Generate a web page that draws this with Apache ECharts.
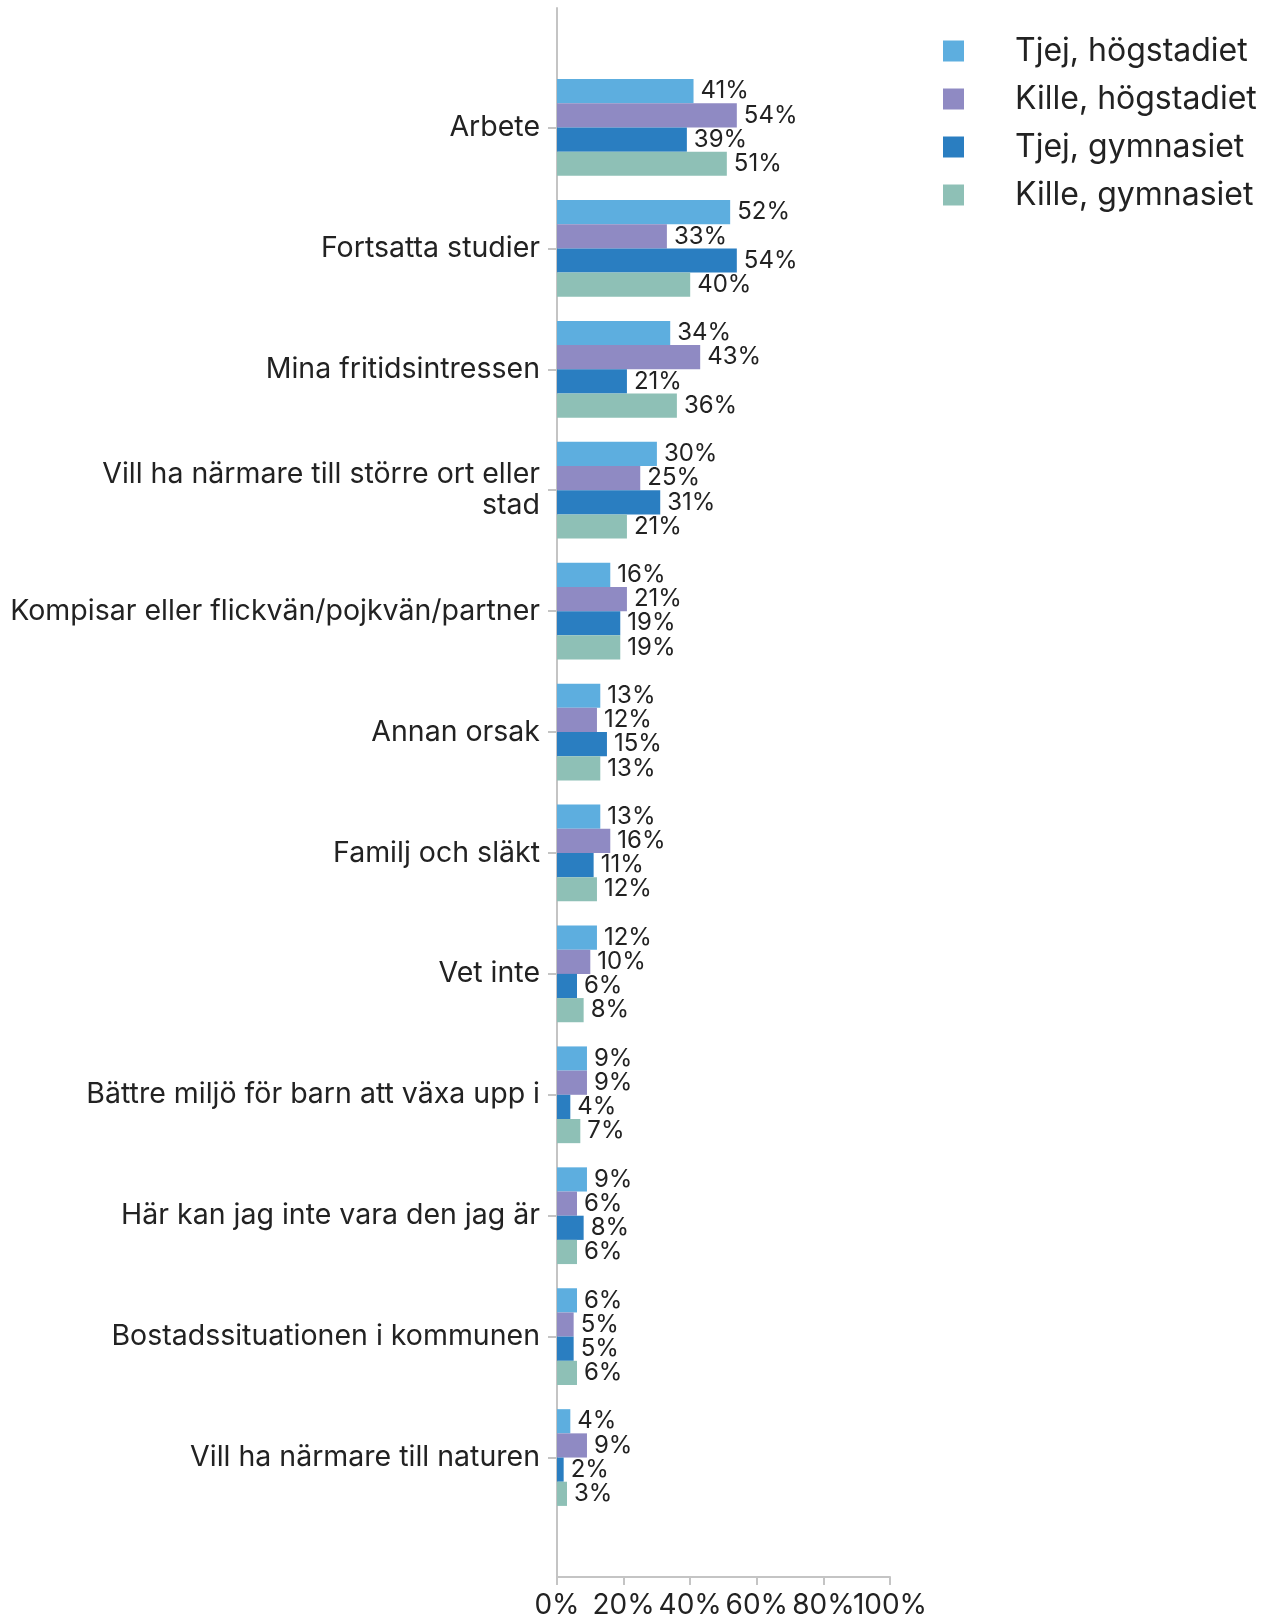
<!DOCTYPE html>
<html>
<head>
<meta charset="utf-8">
<script src="https://cdn.jsdelivr.net/npm/echarts@6/dist/echarts.min.js"></script>
<style>
html, body { margin: 0; padding: 0; background: #fff; }
#main { width: 1268px; height: 1619px; }
</style>
</head>
<body>
<div id="main"></div>
<script>
// data
var categories = [
  'Arbete',
  'Fortsatta studier',
  'Mina fritidsintressen',
  'Vill ha närmare till större ort eller\nstad',
  'Kompisar eller flickvän/pojkvän/partner',
  'Annan orsak',
  'Familj och släkt',
  'Vet inte',
  'Bättre miljö för barn att växa upp i',
  'Här kan jag inte vara den jag är',
  'Bostadssituationen i kommunen',
  'Vill ha närmare till naturen'
];
var seriesNames = ['Tjej, högstadiet', 'Kille, högstadiet', 'Tjej, gymnasiet', 'Kille, gymnasiet'];
var tjejHog   = [41, 52, 34, 30, 16, 13, 13, 12, 9, 9, 6, 4];
var killeHog  = [54, 33, 43, 25, 21, 12, 16, 10, 9, 6, 5, 9];
var tjejGym   = [39, 54, 21, 31, 19, 15, 11, 6, 4, 8, 5, 2];
var killeGym  = [51, 40, 36, 21, 19, 13, 12, 8, 7, 6, 6, 3];
var xTicks = [0, 20, 40, 60, 80, 100];

var colors = ['#5DAEDF', '#8F8AC3', '#2A7EC1', '#8EC0B6'];
var font = 'Inter';
var textColor = '#222';

var chart = echarts.init(document.getElementById('main'));

function makeSeries(name, data) {
  return {
    name: name,
    type: 'bar',
    xAxisIndex: 1,
    yAxisIndex: 1,
    barGap: '0%',
    barCategoryGap: '20%',
    data: data,
    label: {
      show: true,
      position: 'right',
      distance: 7,
      formatter: '{c}%',
      fontFamily: font,
      fontSize: 24,
      color: textColor
    }
  };
}

// tick labels touch each other, so they are split over two axes
// (every other one) to keep echarts from dropping any
function tickLabel(even) {
  return function (v) {
    var i = xTicks.indexOf(v);
    return (i % 2 === 0) === even ? v + '%' : '';
  };
}
var xLabelStyle = {
  fontFamily: font,
  fontSize: 28,
  color: textColor,
  margin: 15,
  showMinLabel: true,
  showMaxLabel: true
};

var option = {
  animation: false,
  color: colors,
  textStyle: { fontFamily: font },
  legend: {
    orient: 'vertical',
    left: 938,
    top: 30,
    icon: 'rect',
    itemWidth: 21,
    itemHeight: 21,
    itemGap: 16,
    data: seriesNames,
    textStyle: {
      fontFamily: font,
      fontSize: 32,
      lineHeight: 32,
      color: textColor,
      padding: [0, 0, 0, 46]
    }
  },
  grid: [
    // frame: axis lines run past the bars
    { left: 557, right: 378, top: 8, bottom: 42, outerBoundsMode: 'none' },
    // bars
    { left: 557, right: 378, top: 67, bottom: 101, outerBoundsMode: 'none' }
  ],
  xAxis: [{
    gridIndex: 0,
    type: 'value',
    position: 'bottom',
    min: xTicks[0],
    max: xTicks[xTicks.length - 1],
    interval: 20,
    axisLine: { show: true, lineStyle: { color: '#c4c4c4', width: 2 } },
    axisTick: { show: true, length: 8, lineStyle: { color: '#c4c4c4', width: 2 } },
    axisLabel: Object.assign({ formatter: tickLabel(true) }, xLabelStyle),
    splitLine: { show: false }
  }, {
    gridIndex: 1,
    type: 'value',
    min: xTicks[0],
    max: xTicks[xTicks.length - 1],
    show: false
  }, {
    gridIndex: 0,
    type: 'value',
    position: 'bottom',
    min: xTicks[0],
    max: xTicks[xTicks.length - 1],
    interval: 20,
    axisLine: { show: false },
    axisTick: { show: false },
    axisLabel: Object.assign({ formatter: tickLabel(false) }, xLabelStyle),
    splitLine: { show: false }
  }],
  yAxis: [{
    gridIndex: 0,
    type: 'value',
    min: 0,
    max: 1,
    axisLine: { show: true, lineStyle: { color: '#c4c4c4', width: 2 } },
    axisTick: { show: false },
    axisLabel: { show: false },
    splitLine: { show: false }
  }, {
    gridIndex: 1,
    type: 'category',
    inverse: true,
    data: categories,
    axisLine: { show: false },
    axisTick: { show: true, alignWithLabel: true, length: 9, lineStyle: { color: '#c4c4c4', width: 2 } },
    axisLabel: {
      fontFamily: font,
      fontSize: 28.5,
      lineHeight: 31,
      color: textColor,
      margin: 17,
      padding: [6, 0, 0, 0],
      align: 'right'
    }
  }],
  series: [
    makeSeries(seriesNames[0], tjejHog),
    makeSeries(seriesNames[1], killeHog),
    makeSeries(seriesNames[2], tjejGym),
    makeSeries(seriesNames[3], killeGym)
  ]
};

chart.setOption(option);
</script>
</body>
</html>
